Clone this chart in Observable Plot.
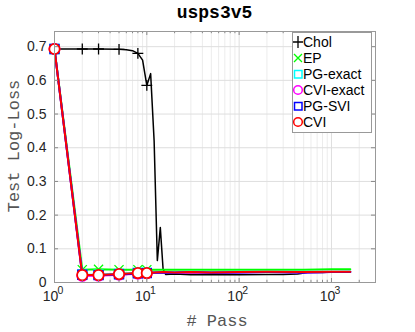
<!DOCTYPE html>
<html><head><meta charset="utf-8">
<script src="https://cdn.jsdelivr.net/npm/d3@7"></script>
<script src="https://cdn.jsdelivr.net/npm/@observablehq/plot@0.6"></script>
<style>
body{margin:0;background:#fff;}
#wrap{position:relative;width:415px;height:332px;overflow:hidden;}
#title{position:absolute;left:54px;width:321px;top:3px;text-align:center;font:bold 18px "Liberation Mono",monospace;color:#000;}
#ylab{position:absolute;left:14px;top:146px;transform:translate(-50%,-50%) rotate(-90deg);white-space:nowrap;font:17px "Liberation Mono",monospace;color:#555;}
#xlab{position:absolute;left:217px;top:321px;transform:translate(-50%,-50%);white-space:nowrap;font:17px "Liberation Mono",monospace;color:#555;}
#legend{position:absolute;left:292px;top:32px;width:78px;border:1px solid #999;background:#fff;font:14px "Liberation Sans",Arial,sans-serif;color:#000;padding:1px 0 2px 0;}
.row{height:16px;line-height:16px;display:flex;align-items:center;white-space:nowrap;}
.row svg{width:10px;height:12px;flex:none;}
</style></head><body>
<div id="wrap"><div id="chart"></div><div id="title">usps3v5</div><div id="ylab">Test Log-Loss</div><div id="xlab"># Pass</div><div id="legend"></div></div>
<script>
// ---- data ----
const seriesNames = ["Chol","EP","PG-exact","CVI-exact","PG-SVI","CVI"];
const seriesColors = ["#000000","#00ff00","#00ffff","#ff00ff","#0000ff","#ff0000"];
const seriesSymbols = ["plus","times","square","circle","square","circle"];
const markerPasses = [1,2,3,5,8,10];

const cholX = [1,2,3,5,6,7,8,9,10,11,12,13,14,15,16,20,30,50,100,200,300,430,550,800,1000,1600];
const cholY = [0.693,0.693,0.693,0.692,0.691,0.688,0.68,0.66,0.585,0.62,0.42,0.065,0.163,0.04,0.024,0.025,0.023,0.024,0.023,0.024,0.024,0.025,0.030,0.030,0.031,0.031];

const epX = [1,2,3,5,8,10,15,20,50,100,200,500,1000,1600];
const epY = [0.693,0.038,0.039,0.038,0.038,0.038,0.038,0.038,0.038,0.038,0.038,0.038,0.039,0.039];

const cviX = [1,2,3,5,8,10,12,15,20,30,50,100,200,500,1000,1600];
const pgExactY = [0.693,0.024,0.023,0.026,0.029,0.029,0.031,0.031,0.031,0.032,0.031,0.032,0.032,0.032,0.032,0.033];
const cviExactY = [0.693,0.019,0.020,0.023,0.026,0.027,0.029,0.030,0.029,0.030,0.029,0.030,0.031,0.030,0.031,0.031];
const pgSviY = [0.693,0.023,0.022,0.024,0.027,0.028,0.029,0.030,0.029,0.031,0.029,0.030,0.031,0.030,0.031,0.031];
const cviY = [0.693,0.022,0.022,0.025,0.028,0.028,0.030,0.031,0.030,0.031,0.030,0.031,0.032,0.031,0.032,0.032];

const yTicks = [0,0.1,0.2,0.3,0.4,0.5,0.6,0.7];
const xTicks = [1,10,100,1000];
const xTickExp = ["0","1","2","3"];

// ---- build ----
const xDomain = [1,3000], yDomain = [0,0.745];
const minorX = [];
for (const d of xTicks) for (let k=2;k<=9;k++){ const v=d*k; if (v<xDomain[1]) minorX.push(v); }
const mk = (xs, ys) => xs.map((x,i)=>({x, y: ys[i]}));
const series = [mk(cholX,cholY), mk(epX,epY), mk(cviX,pgExactY), mk(cviX,cviExactY), mk(cviX,pgSviY), mk(cviX,cviY)];
const widths = [1.5,2,2,2,2,2];

const ty = (yDomain[1]-yDomain[0])*4/251;   // tick length in data units
const tyMinor = ty*0.55;
const tx = Math.pow(10, 4/92.3);

const marks = [
  Plot.ruleX(minorX, {stroke:"#ececec", strokeWidth:1}),
  Plot.ruleX(xTicks, {stroke:"#dedede", strokeWidth:1}),
  Plot.ruleY(yTicks, {stroke:"#dedede", strokeWidth:1}),
];
series.forEach((data, i) => {
  marks.push(Plot.line(data, {x:"x", y:"y", stroke: seriesColors[i], strokeWidth: widths[i]}));
  const md = data.filter(d => markerPasses.includes(d.x));
  const sym = seriesSymbols[i];
  if (sym === "plus") marks.push(Plot.dot(md, {x:"x", y:"y", symbol:"plus", r:3.6, stroke: seriesColors[i], strokeWidth:1.3}));
  else if (sym === "times") marks.push(Plot.dot(md, {x:"x", y:"y", symbol:"times", r:4.2, stroke: seriesColors[i], strokeWidth:1.3}));
  else if (sym === "square") marks.push(Plot.dot(md, {x:"x", y:"y", symbol:"square", r:5, stroke: seriesColors[i], fill:"none", strokeWidth:1.5}));
  else marks.push(Plot.dot(md, {x:"x", y:"y", symbol:"circle", r: i===5?5.2:5, stroke: seriesColors[i], fill: i===5?"#fff":"none", strokeWidth:1.8}));
});
// inward ticks
marks.push(
  Plot.ruleX(xTicks, {y1: yDomain[0], y2: yDomain[0]+ty, stroke:"#888"}),
  Plot.ruleX(xTicks, {y1: yDomain[1], y2: yDomain[1]-ty, stroke:"#888"}),
  Plot.ruleX(minorX, {y1: yDomain[0], y2: yDomain[0]+tyMinor, stroke:"#888"}),
  Plot.ruleX(minorX, {y1: yDomain[1], y2: yDomain[1]-tyMinor, stroke:"#888"}),
  Plot.ruleY(yTicks, {x1: xDomain[0], x2: xDomain[0]*tx, stroke:"#888"}),
  Plot.ruleY(yTicks, {x1: xDomain[1], x2: xDomain[1]/tx, stroke:"#888"}),
  Plot.frame({stroke:"#999"}),
  Plot.axisY(yTicks, {tickSize:0, tickPadding:8, fontSize:14, tickFormat: d => d===0 ? "0" : d.toFixed(1), label:null, fill:"#262626"}),
  Plot.text(xTicks, {x: d=>d, frameAnchor:"bottom", dy:18, dx:-4, text: ()=>"10", fontSize:14, fill:"#262626"}),
  Plot.text(xTicks, {x: d=>d, frameAnchor:"bottom", dy:11, dx:6, text: (d,i)=>xTickExp[i], fontSize:10.5, fill:"#262626"})
);

const chart = Plot.plot({
  width:415, height:332,
  marginLeft:54, marginRight:40, marginTop:31, marginBottom:50,
  style:{fontFamily:'"Liberation Sans",Arial,sans-serif', background:"#fff", overflow:"visible"},
  x:{type:"log", domain:xDomain, axis:null},
  y:{domain:yDomain, axis:null},
  marks
});
document.getElementById("chart").append(chart);

// legend
const leg = document.getElementById("legend");
seriesNames.forEach((name,i) => {
  const row = document.createElement("div"); row.className="row";
  const c = seriesColors[i]; const s = seriesSymbols[i];
  let g = "";
  if (s==="plus") g = `<path d="M0,6H10M5,0V12" stroke="${c}" stroke-width="1.3" fill="none"/>`;
  else if (s==="times") g = `<path d="M1,2L9,10M9,2L1,10" stroke="${c}" stroke-width="1.3" fill="none"/>`;
  else if (s==="square") g = `<rect x="1.5" y="2.5" width="7.5" height="7.5" stroke="${c}" stroke-width="1.5" fill="none"/>`;
  else g = `<circle cx="5" cy="6" r="4.3" stroke="${c}" stroke-width="1.5" fill="none"/>`;
  row.innerHTML = `<svg viewBox="0 0 10 12">${g}</svg><span>${name}</span>`;
  leg.append(row);
});
</script></body></html>
